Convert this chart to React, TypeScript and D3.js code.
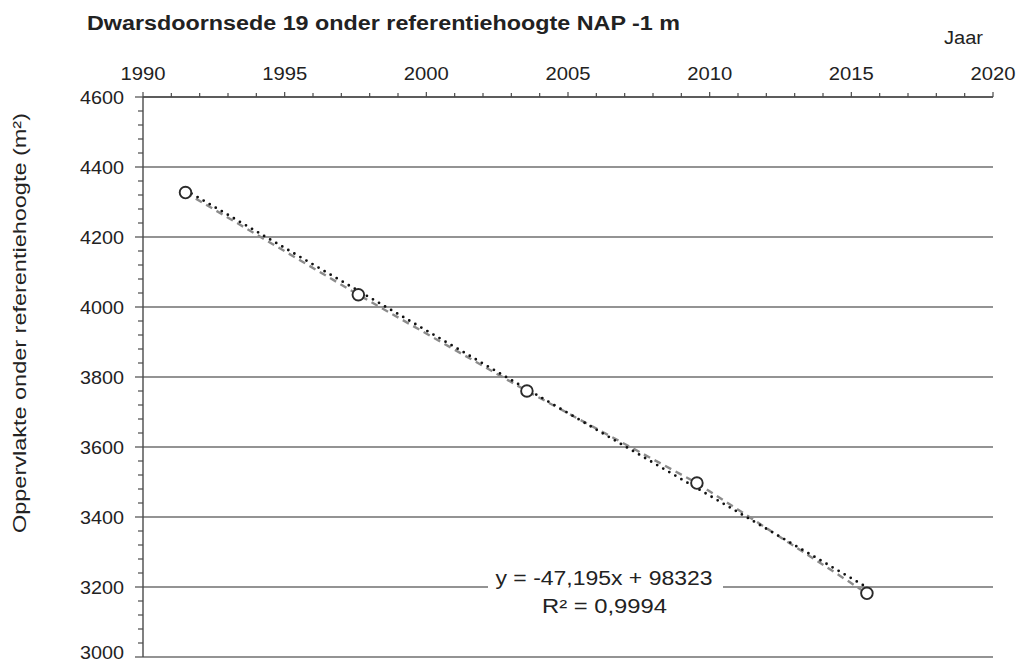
import React from "react";
import * as d3 from "d3";

const years = [1991.5, 1997.6, 2003.55, 2009.55, 2015.55];
const areas = [4327, 4035, 3760, 3497, 3182];
const trendSlope = -47.195;
const trendIntercept = 98323;
const xTicks = [1990, 1995, 2000, 2005, 2010, 2015, 2020];
const yTicks = [3000, 3200, 3400, 3600, 3800, 4000, 4200, 4400, 4600];
const titleText = "Dwarsdoornsede 19 onder referentiehoogte NAP -1 m";
const xLabel = "Jaar";
const yLabel = "Oppervlakte onder referentiehoogte (m²)";
const eqText = "y = -47,195x + 98323";
const r2Text = "R² = 0,9994";

const W = 1019;
const H = 664;
const FONT = "'Liberation Sans', Arial, sans-serif";

export default function App() {
  const x = d3.scaleLinear().domain([1990, 2020]).range([143, 993]);
  const y = d3.scaleLinear().domain([3000, 4600]).range([657, 97]);

  const minorX = d3.range(1990, 2021, 1);
  const minorY = d3.range(3000, 4601, 40);

  const pts = years.map((yr, i) => [yr, areas[i]] as [number, number]);
  const line = d3
    .line<[number, number]>()
    .x((d) => x(d[0]))
    .y((d) => y(d[1]));
  const trendPts: [number, number][] = [
    [years[0], trendSlope * years[0] + trendIntercept],
    [years[years.length - 1], trendSlope * years[years.length - 1] + trendIntercept],
  ];

  const gridColor = "#6f6f6f";
  const axisColor = "#4a4a4a";
  const textColor = "#222";

  return (
    <svg
      width={W}
      height={H}
      style={{ position: "absolute", left: 0, top: 0, background: "#fff" }}
      fontFamily={FONT}
    >
      <rect x={0} y={0} width={W} height={H} fill="#fff" />
      {/* title */}
      <text
        x={87}
        y={30}
        fontSize={19.5}
        fontWeight="bold"
        fill={textColor}
        textLength={593}
        lengthAdjust="spacingAndGlyphs"
      >
        {titleText}
      </text>
      <text x={944} y={44} fontSize={18} fill={textColor} textLength={39} lengthAdjust="spacingAndGlyphs">
        {xLabel}
      </text>

      {/* gridlines */}
      {yTicks.map((t) => (
        <line key={"g" + t} x1={x(1990)} x2={x(2020)} y1={y(t)} y2={y(t)} stroke={gridColor} strokeWidth={1.4} />
      ))}

      {/* y axis */}
      <line x1={x(1990)} x2={x(1990)} y1={y(3000)} y2={y(4600)} stroke={axisColor} strokeWidth={1.4} />
      {minorY.map((t) => (
        <line
          key={"my" + t}
          x1={x(1990) - (t % 200 === 0 ? 8 : 5)}
          x2={x(1990)}
          y1={y(t)}
          y2={y(t)}
          stroke={axisColor}
          strokeWidth={1.2}
        />
      ))}
      {yTicks.map((t) => (
        <text
          key={"yl" + t}
          x={124}
          y={Math.min(y(t) + 6.5, 659)}
          fontSize={19}
          textAnchor="end"
          fill={textColor}
          textLength={44}
          lengthAdjust="spacingAndGlyphs"
        >
          {t}
        </text>
      ))}

      {/* top x axis */}
      <line x1={x(1990)} x2={x(2020)} y1={y(4600)} y2={y(4600)} stroke={axisColor} strokeWidth={1.4} />
      {minorX.map((t) => (
        <line
          key={"mx" + t}
          x1={x(t)}
          x2={x(t)}
          y1={y(4600) - (t % 5 === 0 ? 5 : 4)}
          y2={y(4600)}
          stroke={axisColor}
          strokeWidth={1.2}
        />
      ))}
      {xTicks.map((t) => (
        <text
          key={"xl" + t}
          x={x(t)}
          y={80}
          fontSize={19}
          textAnchor="middle"
          fill={textColor}
          textLength={45}
          lengthAdjust="spacingAndGlyphs"
        >
          {t}
        </text>
      ))}

      {/* y label */}
      <text
        transform={`translate(26,323) rotate(-90)`}
        fontSize={18.5}
        textAnchor="middle"
        fill={textColor}
        textLength={420}
        lengthAdjust="spacingAndGlyphs"
      >
        {yLabel}
      </text>

      {/* series line (gray dashed) */}
      <path d={line(pts) || ""} fill="none" stroke="#8c8c8c" strokeWidth={2.4} strokeDasharray="7 5" />
      {/* trendline (black dotted) */}
      <path
        d={line(trendPts) || ""}
        fill="none"
        stroke="#111"
        strokeWidth={2.8}
        strokeDasharray="0 7"
        strokeLinecap="round"
      />

      {/* markers */}
      {pts.map((p, i) => (
        <circle key={"c" + i} cx={x(p[0])} cy={y(p[1])} r={5.8} fill="#fff" stroke="#2a2a2a" strokeWidth={1.9} />
      ))}

      {/* equation label */}
      <rect x={488} y={568} width={235} height={50} fill="#fff" />
      <text
        x={604}
        y={585}
        fontSize={19.5}
        textAnchor="middle"
        fill={textColor}
        textLength={217}
        lengthAdjust="spacingAndGlyphs"
      >
        {eqText}
      </text>
      <text
        x={604.5}
        y={613}
        fontSize={19.5}
        textAnchor="middle"
        fill={textColor}
        textLength={125}
        lengthAdjust="spacingAndGlyphs"
      >
        {r2Text}
      </text>
    </svg>
  );
}
